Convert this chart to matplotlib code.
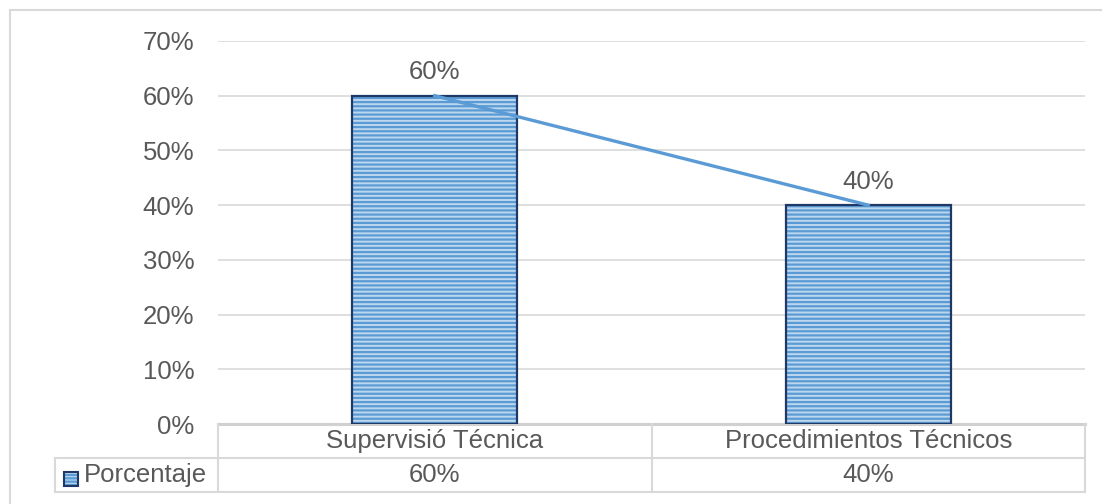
import numpy as np
import matplotlib.pyplot as plt
from matplotlib.patches import Rectangle

plt.rcParams['font.family'] = ['Liberation Sans', 'DejaVu Sans']
plt.rcParams['hatch.linewidth'] = 1.6

categories = ['Supervisió Técnica', 'Procedimientos Técnicos']
values = [60, 40]
series_name = 'Porcentaje'
yticks = [0, 10, 20, 30, 40, 50, 60, 70]

txt = '#595959'
grid = '#D9D9D9'
fill = '#BDD7EE'
stripe = '#5B9BD5'
navy = '#1F3864'
fs = 18.5

W, H = 1102, 504
fig = plt.figure(figsize=(W / 100, H / 100), dpi=100)
ax = fig.add_axes([218 / W, (H - 424) / H, (1085 - 218) / W, (424 - 41) / H])

x = np.arange(len(categories))
ax.bar(x, values, width=0.38, color=fill, edgecolor=stripe, hatch='----', linewidth=0, zorder=2)
ax.bar(x, values, width=0.38, fill=False, edgecolor=navy, linewidth=1.6, zorder=3)
ax.plot(x, values, color=stripe, lw=2.4, zorder=4)
for xi, v in zip(x, values):
    ax.text(xi, v + 4.3, f'{v}%', ha='center', va='center', fontsize=fs, color=txt)

ax.set_xlim(-0.5, 1.5)
ax.set_ylim(0, 70)
ax.set_yticks(yticks)
ax.set_yticklabels([f'{t}%' for t in yticks], fontsize=fs, color=txt)
ax.tick_params(axis='y', length=0, pad=17)
ax.set_xticks([])
ax.yaxis.grid(True, color=grid, lw=1.2, zorder=0)
ax.set_axisbelow(True)
for s in ax.spines.values():
    s.set_visible(False)

# data table under the axis (x in data units, y in axes fraction)
tr = ax.get_xaxis_transform()
r1 = -34 / 383
r2 = -68 / 383
xl = -0.5 - 163 / 433.5
kw = dict(color=grid, lw=1.5, transform=tr, clip_on=False, zorder=1)
ax.plot([-0.5, 1.5], [0, 0], color='#D0D0D0', lw=2.2, transform=tr, clip_on=False, zorder=1)
ax.plot([xl, 1.5], [r1, r1], **kw)
ax.plot([xl, 1.5], [r2, r2], **kw)
ax.plot([xl, xl], [r1, r2], **kw)
for xb in [-0.5, 0.5, 1.5]:
    ax.plot([xb, xb], [0, r2], **kw)
for xi, c, v in zip(x, categories, values):
    ax.text(xi, r1 / 2, c, ha='center', va='center', fontsize=fs, color=txt, transform=tr)
    ax.text(xi, (r1 + r2) / 2, f'{v}%', ha='center', va='center', fontsize=fs, color=txt, transform=tr)
ax.text(-0.5 - (218 - 84) / 433.5, (r1 + r2) / 2, series_name, ha='left', va='center',
        fontsize=fs, color=txt, transform=tr)

# legend key in the table
fig.add_artist(Rectangle((64 / W, (H - 486) / H), 14 / W, 14 / H, transform=fig.transFigure,
                         facecolor=fill, edgecolor=stripe, hatch='-----', lw=0, zorder=10))
fig.add_artist(Rectangle((64 / W, (H - 486) / H), 14 / W, 14 / H, transform=fig.transFigure,
                         fill=False, edgecolor=navy, lw=1.5, zorder=11))

# chart border
fig.add_artist(Rectangle((10 / W, -0.2), 1.2, 1.2 - 10 / H, transform=fig.transFigure,
                         fill=False, edgecolor=grid, lw=1.5))

fig.savefig('out.png', dpi=100)
